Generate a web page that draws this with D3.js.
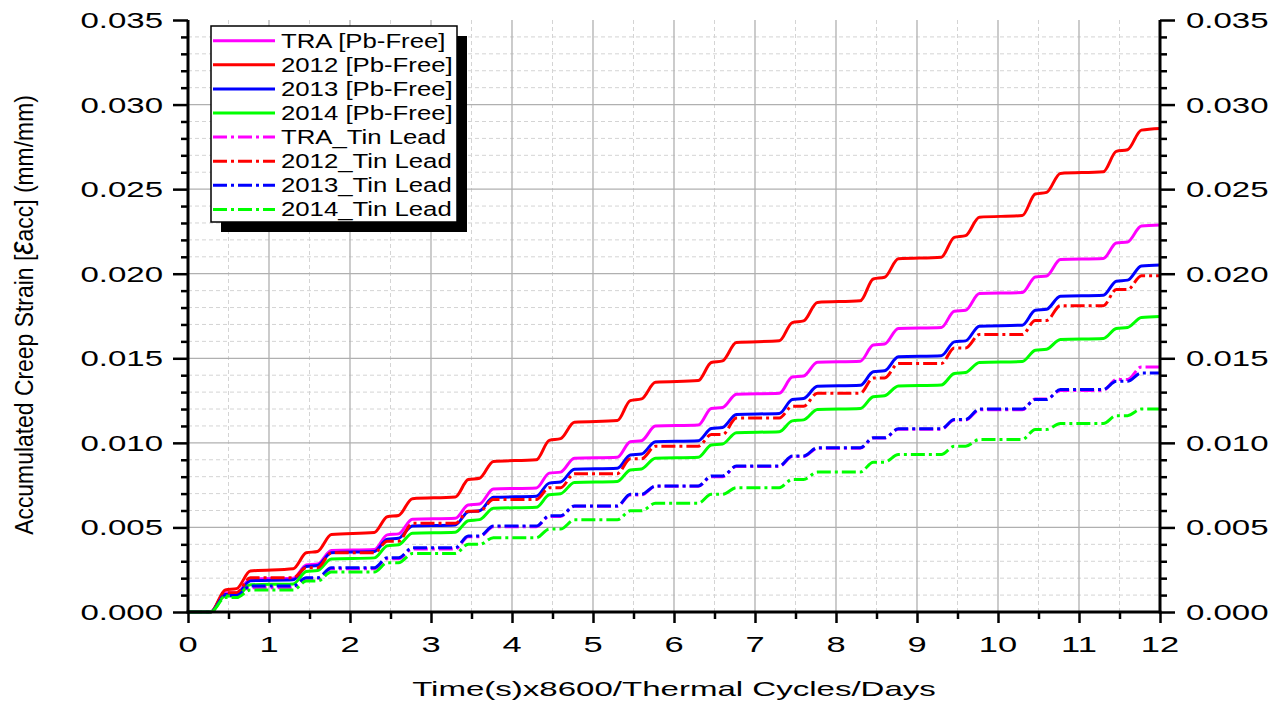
<!DOCTYPE html>
<html>
<head>
<meta charset="utf-8">
<script src="https://cdn.jsdelivr.net/npm/d3@7"></script>
<style>
  html, body { margin: 0; padding: 0; background: #fff; }
  svg { display: block; font-family: "Liberation Sans", Arial, sans-serif; }
</style>
</head>
<body>
<div id="chart"></div>
<script>
// Accumulated creep strain vs time (days). Strain values are in 1e-3 mm/mm.
// Each day has two ramps (~d+0.3 -> d+0.46 and d+0.6 -> d+0.77) then a plateau.

const timeDays = [0, 0.28, 0.46, 0.6, 0.77, 1.3, 1.46, 1.6, 1.77, 2.3, 2.46, 2.6, 2.77,
  3.3, 3.46, 3.6, 3.77, 4.3, 4.46, 4.6, 4.77, 5.3, 5.46, 5.6, 5.77, 6.3, 6.46, 6.6, 6.77,
  7.3, 7.46, 7.6, 7.77, 8.3, 8.46, 8.6, 8.77, 9.3, 9.46, 9.6, 9.77, 10.3, 10.46, 10.6, 10.77,
  11.3, 11.46, 11.6, 11.77, 12];

const traPbFree = [0, 0, 1.14, 1.14, 1.95, 2.0, 2.78, 2.84, 3.63, 3.69, 4.56, 4.62, 5.48, 5.54,
  6.33, 6.39, 7.27, 7.33, 8.21, 8.27, 9.09, 9.15, 10.07, 10.13, 10.99, 11.05, 12.03, 12.09,
  12.87, 12.93, 13.89, 13.95, 14.77, 14.83, 15.78, 15.84, 16.76, 16.82, 17.78, 17.84,
  18.83, 18.89, 19.81, 19.87, 20.84, 20.9, 21.82, 21.88, 22.82, 22.88];

const y2012PbFree = [0, 0, 1.30, 1.38, 2.42, 2.56, 3.50, 3.58, 4.58, 4.70, 5.63, 5.71, 6.70, 6.80,
  7.83, 7.91, 8.90, 9.00, 10.15, 10.25, 11.22, 11.32, 12.50, 12.60, 13.58, 13.68, 14.75, 14.85,
  15.93, 16.03, 17.11, 17.21, 18.30, 18.40, 19.69, 19.79, 20.88, 20.98, 22.15, 22.25,
  23.34, 23.44, 24.71, 24.81, 25.93, 26.03, 27.23, 27.33, 28.49, 28.59];

const y2013PbFree = [0, 0, 1.04, 1.04, 1.85, 1.9, 2.69, 2.75, 3.51, 3.57, 4.3, 4.36, 5.09, 5.15,
  5.93, 5.99, 6.78, 6.84, 7.62, 7.68, 8.44, 8.5, 9.28, 9.34, 10.07, 10.13, 10.85, 10.91,
  11.68, 11.74, 12.56, 12.62, 13.34, 13.4, 14.2, 14.26, 15.09, 15.15, 15.97, 16.03,
  16.9, 16.96, 17.84, 17.9, 18.67, 18.73, 19.56, 19.62, 20.46, 20.52];

const y2014PbFree = [0, 0, 0.94, 0.94, 1.61, 1.66, 2.39, 2.45, 3.14, 3.2, 3.91, 3.97, 4.66, 4.72,
  5.4, 5.46, 6.13, 6.19, 6.93, 6.99, 7.66, 7.72, 8.4, 8.46, 9.09, 9.15, 9.87, 9.93,
  10.6, 10.66, 11.3, 11.36, 11.97, 12.03, 12.73, 12.79, 13.36, 13.42, 14.1, 14.16,
  14.75, 14.81, 15.48, 15.54, 16.11, 16.17, 16.76, 16.82, 17.41, 17.47];

const traTinLead = [0, 0, 0.98, 0.98, 1.44, 1.44, 1.98, 1.98, 2.56, 2.56, 3.15, 3.15, 3.72, 3.72,
  4.45, 4.45, 5.04, 5.04, 5.65, 5.65, 6.25, 6.25, 6.92, 6.92, 7.43, 7.43, 8.0, 8.0,
  8.6, 8.6, 9.2, 9.2, 9.68, 9.68, 10.28, 10.28, 10.8, 10.8, 11.35, 11.35,
  11.95, 11.95, 12.6, 12.6, 13.1, 13.1, 13.75, 13.75, 14.49, 14.49];

const y2012TinLead = [0, 0, 1.14, 1.14, 2.03, 2.03, 2.62, 2.62, 3.5, 3.5, 4.19, 4.19, 5.24, 5.24,
  5.96, 5.96, 6.65, 6.65, 7.35, 7.35, 8.18, 8.18, 9.06, 9.06, 9.8, 9.8, 10.49, 10.49,
  11.47, 11.47, 12.16, 12.16, 12.94, 12.94, 13.84, 13.84, 14.69, 14.69, 15.61, 15.61,
  16.4, 16.4, 17.24, 17.24, 18.11, 18.11, 19.06, 19.06, 19.88, 19.88];

const y2013TinLead = [0, 0, 0.98, 0.98, 1.54, 1.54, 2.03, 2.03, 2.62, 2.62, 3.21, 3.21, 3.8, 3.8,
  4.49, 4.49, 5.08, 5.08, 5.69, 5.69, 6.27, 6.27, 6.96, 6.96, 7.45, 7.45, 8.04, 8.04,
  8.63, 8.63, 9.22, 9.22, 9.71, 9.71, 10.3, 10.3, 10.83, 10.83, 11.38, 11.38,
  12.0, 12.0, 12.56, 12.56, 13.15, 13.15, 13.64, 13.64, 14.13, 14.13];

const y2014TinLead = [0, 0, 0.85, 0.85, 1.3, 1.3, 1.83, 1.83, 2.36, 2.36, 2.91, 2.91, 3.46, 3.46,
  4.0, 4.0, 4.39, 4.39, 4.9, 4.9, 5.45, 5.45, 5.98, 5.98, 6.43, 6.43, 6.96, 6.96,
  7.35, 7.35, 7.84, 7.84, 8.27, 8.27, 8.86, 8.86, 9.31, 9.31, 9.8, 9.8,
  10.2, 10.2, 10.79, 10.79, 11.14, 11.14, 11.61, 11.61, 12.0, 12.0];

const seriesLabels = ['TRA [Pb-Free]', '2012 [Pb-Free]', '2013 [Pb-Free]', '2014 [Pb-Free]',
  'TRA_Tin Lead', '2012_Tin Lead', '2013_Tin Lead', '2014_Tin Lead'];
const seriesValues = [traPbFree, y2012PbFree, y2013PbFree, y2014PbFree,
  traTinLead, y2012TinLead, y2013TinLead, y2014TinLead];

const xTicks = [0, 1, 2, 3, 4, 5, 6, 7, 8, 9, 10, 11, 12];
const yTicks = [0, 0.005, 0.010, 0.015, 0.020, 0.025, 0.030, 0.035];

// styles
const colors = ['#ff00ff', '#ff0000', '#0000ff', '#00ff00', '#ff00ff', '#ff0000', '#0000ff', '#00ff00'];
const dashDot = '14,4,3,4';
const isDashed = i => i >= 4;

const W = 1282, H = 702;
const plot = { left: 188, right: 1160, top: 20, bottom: 612 };

const svg = d3.select('#chart').append('svg')
  .attr('width', W).attr('height', H)
  .attr('viewBox', `0 0 ${W} ${H}`);

const x = d3.scaleLinear().domain([0, 12]).range([plot.left, plot.right]);
const y = d3.scaleLinear().domain([0, 0.035]).range([plot.bottom, plot.top]);

const xMinor = d3.range(0.5, 12, 1);
const yMinor = d3.range(1, 35).filter(k => k % 5).map(k => k / 1000);

// Grid
const grid = svg.append('g');
grid.selectAll('.yminor').data(yMinor).enter().append('line')
  .attr('x1', plot.left).attr('x2', plot.right)
  .attr('y1', d => y(d)).attr('y2', d => y(d))
  .attr('stroke', '#d4d4d4').attr('stroke-width', 1).attr('stroke-dasharray', '4,3');
grid.selectAll('.xminor').data(xMinor).enter().append('line')
  .attr('y1', plot.top).attr('y2', plot.bottom)
  .attr('x1', d => x(d)).attr('x2', d => x(d))
  .attr('stroke', '#d4d4d4').attr('stroke-width', 1).attr('stroke-dasharray', '4,3');
grid.selectAll('.ymajor').data(yTicks.slice(1, -1)).enter().append('line')
  .attr('x1', plot.left).attr('x2', plot.right)
  .attr('y1', d => y(d)).attr('y2', d => y(d))
  .attr('stroke', '#b0b0b0').attr('stroke-width', 1.3);
grid.selectAll('.xmajor').data(xTicks.slice(1, -1)).enter().append('line')
  .attr('y1', plot.top).attr('y2', plot.bottom)
  .attr('x1', d => x(d)).attr('x2', d => x(d))
  .attr('stroke', '#b0b0b0').attr('stroke-width', 1.3);

// Curves
const line = d3.line()
  .x((d, i) => x(timeDays[i]))
  .y(d => y(d / 1000))
  .curve(d3.curveMonotoneX);

svg.append('g').selectAll('path').data(seriesValues).enter().append('path')
  .attr('fill', 'none')
  .attr('stroke', (d, i) => colors[i])
  .attr('stroke-width', 3)
  .attr('stroke-linejoin', 'round')
  .attr('stroke-dasharray', (d, i) => isDashed(i) ? dashDot : null)
  .attr('d', line);

// Axes (tick marks only, labels drawn separately so they can be stretched)
function styleAxis(g) {
  g.select('.domain').remove();
  g.selectAll('line').attr('stroke', '#000').attr('stroke-width', 2.5);
}
svg.append('g').attr('transform', `translate(${plot.left},0)`)
  .call(d3.axisLeft(y).tickValues(yMinor).tickSize(7).tickFormat('')).call(styleAxis);
svg.append('g').attr('transform', `translate(${plot.left},0)`)
  .call(d3.axisLeft(y).tickValues(yTicks).tickSize(15).tickFormat('')).call(styleAxis);
svg.append('g').attr('transform', `translate(${plot.right},0)`)
  .call(d3.axisRight(y).tickValues(yMinor).tickSize(7).tickFormat('')).call(styleAxis);
svg.append('g').attr('transform', `translate(${plot.right},0)`)
  .call(d3.axisRight(y).tickValues(yTicks).tickSize(15).tickFormat('')).call(styleAxis);
svg.append('g').attr('transform', `translate(0,${plot.bottom})`)
  .call(d3.axisBottom(x).tickValues(xMinor).tickSize(7).tickFormat('')).call(styleAxis);
svg.append('g').attr('transform', `translate(0,${plot.bottom})`)
  .call(d3.axisBottom(x).tickValues(xTicks).tickSize(11).tickFormat('')).call(styleAxis);

// axis lines
const axisLines = svg.append('g').attr('stroke', '#000').attr('stroke-width', 3);
axisLines.append('line').attr('x1', plot.left).attr('x2', plot.left).attr('y1', plot.top).attr('y2', plot.bottom + 1.5);
axisLines.append('line').attr('x1', plot.right).attr('x2', plot.right).attr('y1', plot.top).attr('y2', plot.bottom + 1.5);
axisLines.append('line').attr('x1', plot.left - 1.5).attr('x2', plot.right + 1.5).attr('y1', plot.bottom).attr('y2', plot.bottom);

// tick labels
const fmt = d3.format('.3f');
const labelSize = 22, stretch = 1.5;
svg.append('g').selectAll('g').data(yTicks).enter().append('g')
  .attr('transform', d => `translate(163,${y(d) + 8}) scale(${stretch},1)`)
  .append('text').attr('text-anchor', 'end').attr('font-size', labelSize).attr('fill', '#000')
  .text(fmt);
svg.append('g').selectAll('g').data(yTicks).enter().append('g')
  .attr('transform', d => `translate(1186,${y(d) + 8}) scale(${stretch},1)`)
  .append('text').attr('text-anchor', 'start').attr('font-size', labelSize).attr('fill', '#000')
  .text(fmt);
svg.append('g').selectAll('g').data(xTicks).enter().append('g')
  .attr('transform', d => `translate(${x(d)},652) scale(${stretch},1)`)
  .append('text').attr('text-anchor', 'middle').attr('font-size', labelSize + 1).attr('fill', '#000')
  .text(d => d);

// axis titles
const xTitleG = svg.append('g');
const xTitle = xTitleG.append('text').attr('text-anchor', 'middle').attr('font-size', 21)
  .text('Time(s)x8600/Thermal Cycles/Days');
const xLen = xTitle.node().getComputedTextLength();
xTitleG.attr('transform', `translate(${(plot.left + plot.right) / 2},696) scale(${524 / xLen},1)`);

const yTitleG = svg.append('g');
const yTitle = yTitleG.append('text').attr('text-anchor', 'middle').attr('font-size', 19);
yTitle.append('tspan').text('Accumulated Creep Strain [');
yTitle.append('tspan').attr('font-style', 'italic').attr('font-size', 25).text('ε');
yTitle.append('tspan').text('acc] (mm/mm)');
const yLen = yTitle.node().getComputedTextLength();
yTitleG.attr('transform', `translate(33,315) rotate(-90) scale(${440 / yLen},1.38)`);

// Legend
const leg = { x: 211, y: 26, w: 246, h: 196, row: 24.1, first: 40.7 };
const legend = svg.append('g');
legend.append('rect').attr('x', leg.x + 10).attr('y', leg.y + 10).attr('width', leg.w).attr('height', leg.h)
  .attr('fill', '#000');
legend.append('rect').attr('x', leg.x).attr('y', leg.y).attr('width', leg.w).attr('height', leg.h)
  .attr('fill', '#fff').attr('stroke', '#000').attr('stroke-width', 1.5);
const rows = legend.selectAll('.row').data(seriesLabels).enter().append('g')
  .attr('transform', (d, i) => `translate(0,${leg.first + i * leg.row})`);
rows.append('line').attr('x1', 213).attr('x2', 275).attr('y1', 0).attr('y2', 0)
  .attr('stroke', (d, i) => colors[i]).attr('stroke-width', 3)
  .attr('stroke-dasharray', (d, i) => isDashed(i) ? dashDot : null);
rows.append('g').attr('transform', 'translate(281,7) scale(1.32,1)')
  .append('text').attr('font-size', 19.5).attr('fill', '#000').text(d => d);
</script>
</body>
</html>
